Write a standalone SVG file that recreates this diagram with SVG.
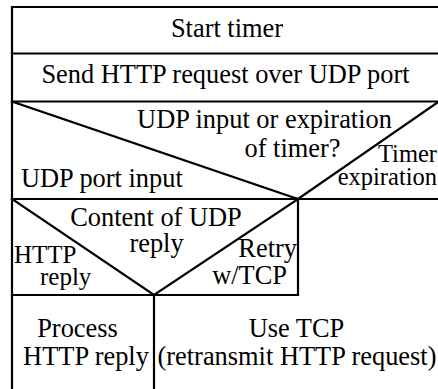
<svg xmlns="http://www.w3.org/2000/svg" width="438" height="389" viewBox="0 0 438 389">
<style>
.ln{fill:none;stroke:#000;stroke-width:2.2;stroke-linecap:square}
.t text{font-family:'Liberation Serif','DejaVu Serif',serif;font-size:26.4px;fill:#000}
.s{font-size:24px}
.c{text-anchor:middle}
.e{text-anchor:end}
</style>
<rect width="438" height="389" fill="#fff"/>
<g id="connectors">
<path class="ln" d="M12,7 H439 M12,7 V390"/>
</g>
<g class="t">
<g id="start-timer">
<path class="ln" d="M12,53.5 H439"/>
<text class="c" x="227" y="37">Start timer</text>
</g>
<g id="send-request">
<path class="ln" d="M12,101.5 H439"/>
<text class="c" x="225.5" y="83">Send HTTP request over UDP port</text>
</g>
<g id="decision-udp-or-timer">
<path class="ln" d="M12,101.5 L298,199 L439,101.5 M12,199 H439"/>
<text class="c" x="264.5" y="128">UDP input or expiration</text>
<text class="c" x="292.5" y="157">of timer?</text>
<text class="e" x="437" y="162" style="font-size:24.5px">Timer</text>
<text class="e" x="437" y="185" style="font-size:24.5px">expiration</text>
<text x="21" y="187">UDP port input</text>
</g>
<g id="decision-content">
<path class="ln" d="M12,199 L154,295 L298,199 V295 H12"/>
<text class="c" x="156" y="226">Content of UDP</text>
<text class="c" x="156.5" y="252">reply</text>
<text x="14" y="263" style="font-size:25px">HTTP</text>
<text x="40" y="285" style="font-size:25px">reply</text>
<text class="e" x="297" y="257">Retry</text>
<text class="e" x="287" y="284">w/TCP</text>
</g>
<g id="process-reply">
<path class="ln" d="M154,295 V390"/>
<text class="c" x="77.5" y="337">Process</text>
<text class="c" x="86" y="365">HTTP reply</text>
</g>
<g id="use-tcp">
<text class="c" x="296.5" y="337">Use TCP</text>
<text class="c" x="297" y="365">(retransmit HTTP request)</text>
</g>
</g>
</svg>
